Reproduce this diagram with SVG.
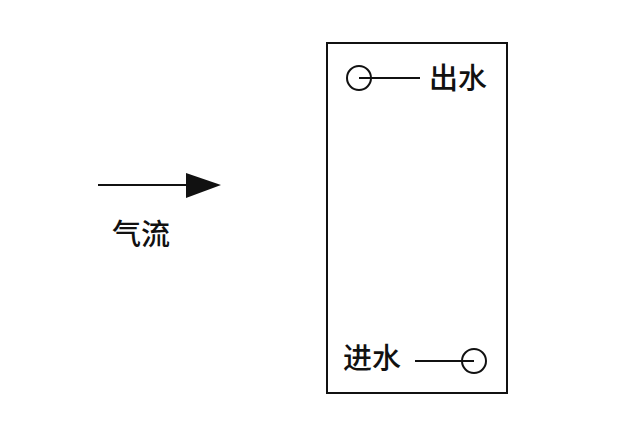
<svg xmlns="http://www.w3.org/2000/svg" width="618" height="445" viewBox="0 0 618 445">
<style>
.t{font-family:"Noto Sans CJK SC","Noto Sans CJK JP",sans-serif;font-size:29px;font-weight:500;fill:#111}
.s{fill:none;stroke:#111;stroke-width:2}
</style>
<rect width="618" height="445" fill="#fff"/>
<g id="tank"><rect class="s" x="327" y="43" width="180" height="350" stroke-width="2.4"/></g>
<g id="outlet">
<circle class="s" cx="359" cy="78" r="12"/>
<text class="t" x="429" y="89">出水</text>
</g>
<g id="inlet">
<circle class="s" cx="474" cy="361" r="12"/>
<text class="t" x="343" y="369">进水</text>
</g>
<g id="airflow">
<text class="t" x="112" y="245">气流</text>
</g>
<g id="connectors">
<line class="s" x1="359" y1="78" x2="420" y2="78"/>
<line class="s" x1="415" y1="361" x2="474" y2="361"/>
<line class="s" x1="98" y1="185" x2="190" y2="185"/>
<polygon points="186,173 221,185 186,198" fill="#111"/>
</g>
</svg>
